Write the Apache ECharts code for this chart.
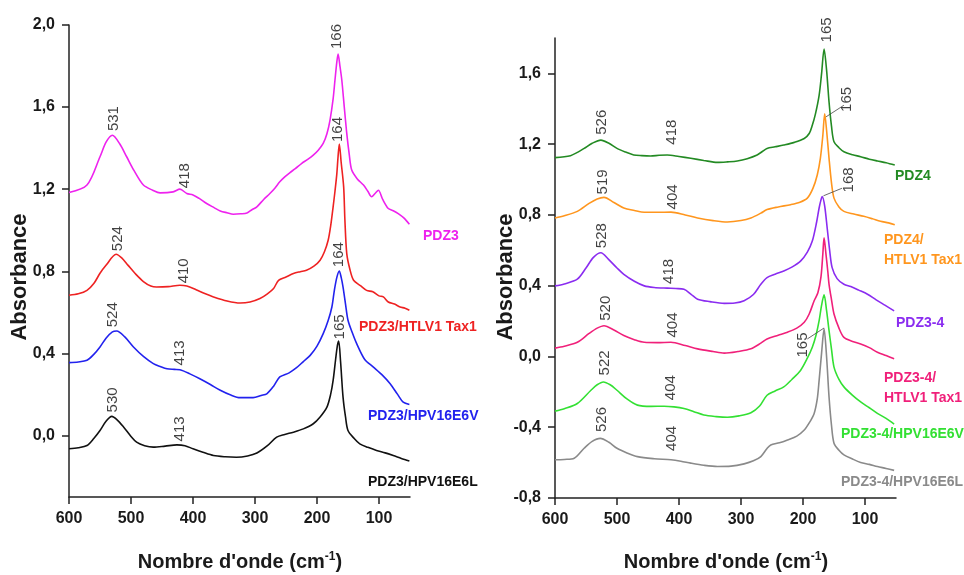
<!DOCTYPE html>
<html>
<head>
<meta charset="utf-8">
<script src="https://cdn.jsdelivr.net/npm/echarts@6/dist/echarts.min.js"></script>
<style>html,body{margin:0;padding:0;background:#fff;}#c{width:964px;height:575px;}</style>
</head>
<body>
<div id="c"></div>
<script>
// ---------- Left panel data (wavenumber cm-1, absorbance) ----------
const pdz3 = [[600,1.184],[571,1.22],[550,1.358],[540,1.43],[530,1.463],[518,1.42],[507,1.358],[495,1.29],[480,1.22],[465,1.195],[453,1.182],[432,1.187],[421,1.2],[410,1.179],[400,1.172],[390,1.155],[378,1.13],[366,1.11],[356,1.094],[345,1.085],[335,1.078],[323,1.08],[313,1.084],[305,1.1],[297,1.114],[286,1.15],[276,1.179],[268,1.205],[260,1.236],[252,1.26],[244,1.28],[235,1.3],[225,1.325],[215,1.345],[206,1.366],[198,1.39],[190,1.423],[184,1.47],[179,1.537],[174,1.64],[171,1.732],[168,1.82],[166,1.859],[163,1.8],[160,1.732],[156,1.6],[152,1.472],[148,1.37],[144,1.293],[135,1.25],[125,1.22],[118,1.19],[112,1.163],[106,1.18],[101,1.195],[94,1.15],[85,1.106],[77,1.095],[69,1.081],[60,1.06],[51,1.029]];
const pdz3Tax = [[600,0.683],[585,0.69],[571,0.707],[560,0.74],[550,0.79],[540,0.83],[524,0.883],[515,0.865],[505,0.83],[492,0.785],[480,0.75],[468,0.728],[459,0.723],[440,0.725],[421,0.732],[410,0.728],[395,0.71],[380,0.69],[367,0.675],[345,0.655],[324,0.645],[308,0.65],[292,0.667],[280,0.69],[270,0.716],[262,0.756],[250,0.772],[238,0.789],[227,0.798],[217,0.805],[205,0.825],[195,0.854],[188,0.895],[182,0.951],[178,1.02],[174,1.114],[171,1.19],[168,1.276],[166,1.36],[164,1.42],[161,1.33],[157,1.211],[155,1.05],[152,0.886],[147,0.81],[141,0.756],[130,0.73],[120,0.707],[110,0.7],[100,0.68],[93,0.675],[85,0.65],[75,0.64],[66,0.626],[58,0.62],[51,0.61]];
const pdz3E6V = [[600,0.355],[585,0.358],[571,0.366],[560,0.395],[550,0.431],[540,0.475],[530,0.505],[523,0.509],[510,0.48],[496,0.431],[480,0.385],[464,0.35],[452,0.335],[442,0.325],[430,0.322],[421,0.32],[405,0.3],[389,0.276],[372,0.248],[356,0.22],[340,0.198],[324,0.184],[303,0.184],[290,0.195],[281,0.203],[270,0.24],[260,0.285],[245,0.305],[233,0.33],[222,0.36],[211,0.39],[200,0.435],[190,0.496],[182,0.56],[176,0.626],[172,0.707],[168,0.77],[164,0.801],[161,0.77],[158,0.723],[154,0.64],[150,0.561],[143,0.5],[136,0.447],[123,0.37],[109,0.333],[95,0.295],[82,0.252],[70,0.2],[61,0.162],[51,0.151]];
const pdz3E6L = [[600,-0.065],[585,-0.06],[571,-0.049],[560,-0.015],[550,0.024],[540,0.07],[531,0.093],[522,0.075],[512,0.041],[500,-0.005],[491,-0.033],[478,-0.05],[464,-0.057],[445,-0.052],[426,-0.046],[413,-0.05],[400,-0.065],[384,-0.082],[367,-0.098],[348,-0.104],[330,-0.106],[312,-0.1],[297,-0.086],[280,-0.05],[265,-0.008],[252,0.005],[238,0.016],[222,0.032],[206,0.057],[195,0.09],[184,0.138],[178,0.2],[174,0.268],[170,0.37],[167,0.44],[165,0.46],[162,0.36],[158,0.187],[154,0.09],[150,0.024],[140,-0.015],[131,-0.041],[118,-0.058],[104,-0.073],[90,-0.085],[77,-0.098],[64,-0.112],[51,-0.125]];

// ---------- Right panel data ----------
const pdz4 = [[600,1.124],[575,1.135],[563,1.155],[553,1.176],[540,1.205],[526,1.223],[513,1.205],[500,1.176],[486,1.155],[473,1.139],[460,1.135],[446,1.133],[432,1.137],[419,1.139],[400,1.13],[381,1.12],[360,1.108],[338,1.097],[322,1.1],[306,1.105],[290,1.118],[274,1.139],[265,1.16],[258,1.176],[245,1.185],[231,1.195],[214,1.21],[198,1.232],[190,1.26],[185,1.307],[180,1.37],[174,1.476],[170,1.6],[166,1.738],[162,1.62],[158,1.438],[154,1.3],[150,1.213],[142,1.18],[134,1.157],[120,1.14],[107,1.129],[93,1.115],[80,1.105],[66,1.095],[52,1.082]];
const pdz4Tax = [[600,0.783],[585,0.795],[564,0.82],[545,0.865],[532,0.89],[521,0.899],[505,0.87],[489,0.839],[472,0.825],[456,0.815],[435,0.815],[413,0.816],[390,0.8],[370,0.783],[345,0.768],[322,0.76],[300,0.768],[284,0.783],[268,0.81],[258,0.83],[240,0.845],[220,0.858],[205,0.872],[193,0.895],[184,0.95],[177,1.026],[172,1.12],[168,1.25],[165,1.372],[162,1.28],[158,1.12],[154,0.98],[150,0.895],[142,0.845],[134,0.82],[118,0.805],[102,0.792],[88,0.778],[75,0.764],[62,0.755],[52,0.745]];
const pdz34 = [[600,0.399],[585,0.41],[564,0.437],[550,0.5],[538,0.56],[526,0.586],[514,0.55],[500,0.5],[489,0.464],[472,0.425],[456,0.399],[440,0.39],[419,0.386],[405,0.384],[392,0.38],[380,0.35],[370,0.324],[350,0.31],[327,0.3],[310,0.302],[295,0.315],[280,0.35],[268,0.408],[258,0.446],[245,0.465],[231,0.483],[218,0.505],[204,0.539],[193,0.59],[185,0.652],[178,0.76],[174,0.839],[171,0.885],[169,0.904],[165,0.85],[161,0.726],[157,0.6],[153,0.502],[145,0.44],[134,0.408],[123,0.395],[110,0.375],[96,0.352],[82,0.32],[68,0.29],[53,0.258]];
const pdz34Tax = [[600,0.047],[585,0.058],[564,0.08],[545,0.13],[532,0.16],[521,0.174],[505,0.15],[489,0.118],[472,0.095],[456,0.08],[435,0.078],[413,0.08],[390,0.062],[370,0.043],[345,0.028],[327,0.019],[305,0.028],[284,0.043],[268,0.075],[258,0.099],[240,0.12],[225,0.137],[210,0.16],[198,0.193],[190,0.24],[182,0.315],[176,0.36],[171,0.45],[168,0.58],[166,0.67],[163,0.58],[160,0.48],[158,0.408],[154,0.32],[150,0.24],[142,0.16],[134,0.108],[120,0.085],[107,0.071],[93,0.05],[80,0.024],[66,0.005],[53,-0.013]];
const pdz34E6V = [[600,-0.309],[585,-0.295],[564,-0.266],[542,-0.191],[532,-0.16],[522,-0.144],[511,-0.16],[500,-0.191],[484,-0.24],[467,-0.275],[445,-0.282],[424,-0.281],[408,-0.285],[392,-0.294],[376,-0.312],[360,-0.331],[340,-0.34],[322,-0.344],[303,-0.336],[284,-0.318],[270,-0.28],[258,-0.219],[245,-0.195],[231,-0.172],[218,-0.13],[204,-0.079],[193,-0.01],[185,0.052],[179,0.12],[174,0.202],[170,0.29],[166,0.348],[162,0.26],[158,0.146],[154,0.04],[150,-0.06],[142,-0.13],[134,-0.172],[120,-0.22],[107,-0.257],[93,-0.29],[80,-0.322],[66,-0.35],[53,-0.382]];
const pdz34E6L = [[600,-0.584],[585,-0.582],[569,-0.575],[553,-0.519],[540,-0.48],[527,-0.463],[513,-0.485],[500,-0.519],[484,-0.545],[467,-0.566],[440,-0.578],[413,-0.584],[397,-0.592],[381,-0.603],[360,-0.615],[338,-0.622],[316,-0.62],[295,-0.607],[280,-0.59],[268,-0.566],[258,-0.52],[252,-0.5],[238,-0.488],[225,-0.472],[210,-0.45],[198,-0.416],[189,-0.37],[182,-0.322],[177,-0.24],[174,-0.135],[170,0.02],[166,0.156],[162,0.0],[158,-0.229],[154,-0.39],[150,-0.49],[142,-0.53],[134,-0.556],[120,-0.58],[107,-0.599],[93,-0.61],[80,-0.622],[66,-0.633],[53,-0.644]];

// ---------- Peak annotations: [x, y(bottom of text), text] ----------
const leftPeakLabels = [[168,1.883,'166'],[527,1.483,'531'],[413,1.205,'418'],[166,1.43,'164'],[522,0.898,'524'],[414,0.741,'410'],[164.5,0.82,'164'],[528.5,0.527,'524'],[421,0.341,'413'],[163,0.468,'165'],[530,0.112,'530'],[421,-0.029,'413']];
const rightPeakLabels = [[161,1.775,'165'],[524,1.253,'526'],[411,1.197,'418'],[128.5,1.382,'165'],[522.6,0.916,'519'],[409.7,0.831,'404'],[126,0.927,'168'],[524,0.612,'528'],[417,0.41,'418'],[518,0.202,'520'],[410,0.107,'404'],[201,-0.006,'165'],[519,-0.107,'522'],[413,-0.247,'404'],[524,-0.427,'526'],[411,-0.534,'404']];
const leaderLines = [[[163,1.354],[134,1.42]],[[167,0.908],[137,0.951]],[[193,0.099],[166,0.161]]];

// ---------- Ticks ----------
const xTicks = [100,200,300,400,500,600];
const leftYTicks = [0,0.4,0.8,1.2,1.6,2.0];
const rightYTicks = [-0.8,-0.4,0,0.4,0.8,1.2,1.6];

const leftNames = [
  {text:'PDZ3', color:'#ee22ee', x:423, y:236},
  {text:'PDZ3/HTLV1 Tax1', color:'#ee2222', x:359, y:327},
  {text:'PDZ3/HPV16E6V', color:'#2222ee', x:368, y:416},
  {text:'PDZ3/HPV16E6L', color:'#111111', x:368, y:482}
];
const rightNames = [
  {text:'PDZ4', color:'#238a23', x:895, y:176},
  {text:'PDZ4/', color:'#ff961e', x:884, y:240},
  {text:'HTLV1 Tax1', color:'#ff961e', x:884, y:260},
  {text:'PDZ3-4', color:'#8a2cf0', x:896, y:323},
  {text:'PDZ3-4/', color:'#f0207a', x:884, y:378},
  {text:'HTLV1 Tax1', color:'#f0207a', x:884, y:398},
  {text:'PDZ3-4/HPV16E6V', color:'#33e033', x:841, y:434},
  {text:'PDZ3-4/HPV16E6L', color:'#8a8a8a', x:841, y:482}
];

const FONT = '"Liberation Sans", Arial, sans-serif';
const chart = echarts.init(document.getElementById('c'));
const fmt = v => (Math.round(v*10)/10).toFixed(1).replace('.', ',');

function xAxis(gi){
  return {
    type:'value', gridIndex:gi, min:50, max:600, inverse:true, position:'bottom',
    axisLine:{show:true, onZero:false, lineStyle:{color:'#222', width:1.5}},
    axisTick:{show:true, length:7, inside:false, customValues:xTicks, lineStyle:{color:'#222', width:1.5}},
    axisLabel:{customValues:xTicks, color:'#1a1a1a', fontSize:16, fontWeight:'bold', fontFamily:FONT, margin:14},
    splitLine:{show:false}
  };
}
function yAxis(gi, min, max, ticks){
  return {
    type:'value', gridIndex:gi, min:min, max:max, position:'left',
    axisLine:{show:true, onZero:false, lineStyle:{color:'#222', width:1.5}},
    axisTick:{show:true, length:7, customValues:ticks, lineStyle:{color:'#222', width:1.5}},
    axisLabel:{customValues:ticks, formatter:fmt, color:'#1a1a1a', fontSize:16, fontWeight:'bold', fontFamily:FONT, margin:14},
    splitLine:{show:false}
  };
}
function lineSeries(data, color, gi){
  return {type:'line', xAxisIndex:gi, yAxisIndex:gi, data:data, showSymbol:false, smooth:0.3,
    lineStyle:{color:color, width:1.6}, itemStyle:{color:color}, silent:true, z:3};
}
function labelSeries(data, gi){
  return {type:'scatter', xAxisIndex:gi, yAxisIndex:gi, data:data, symbolSize:1, itemStyle:{color:'rgba(0,0,0,0)'}, silent:true, z:5,
    label:{show:true, position:'inside', rotate:90, align:'left', verticalAlign:'middle', formatter:p=>p.value[2],
      color:'#111', fontSize:15, fontFamily:FONT}};
}

const series = [
  lineSeries(pdz3,'#ee22ee',0), lineSeries(pdz3Tax,'#ee2222',0), lineSeries(pdz3E6V,'#2222ee',0), lineSeries(pdz3E6L,'#111111',0),
  lineSeries(pdz4,'#238a23',1), lineSeries(pdz4Tax,'#ff961e',1), lineSeries(pdz34,'#8a2cf0',1), lineSeries(pdz34Tax,'#f0207a',1),
  lineSeries(pdz34E6V,'#33e033',1), lineSeries(pdz34E6L,'#8a8a8a',1),
  labelSeries(leftPeakLabels,0), labelSeries(rightPeakLabels,1)
];
leaderLines.forEach(l => series.push({type:'line', xAxisIndex:1, yAxisIndex:1, data:l, showSymbol:false, silent:true, lineStyle:{color:'#444', width:0.8}, z:4}));

const graphics = [];
leftNames.concat(rightNames).forEach(n => graphics.push({type:'text', x:n.x, y:n.y, style:{text:n.text, fill:n.color, font:'bold 14px '+FONT, textVerticalAlign:'middle', textAlign:'left'}}));
[[240,562],[726,562]].forEach(p => graphics.push({type:'text', x:p[0], y:p[1], style:{
  text:"{a|Nombre d'onde (cm}{s|-1}{a|)}", textAlign:'center', textVerticalAlign:'middle',
  rich:{a:{font:'bold 20px '+FONT, fill:'#1a1a1a'}, s:{font:'bold 12px '+FONT, fill:'#1a1a1a', verticalAlign:'top', padding:[0,0,10,0]}}
}}));
[[20,277],[506,277]].forEach(p => graphics.push({type:'text', x:p[0], y:p[1], rotation:Math.PI/2, style:{
  text:'Absorbance', font:'bold 22px '+FONT, fill:'#1a1a1a', textAlign:'center', textVerticalAlign:'middle'}}));

chart.setOption({
  backgroundColor:'#ffffff',
  animation:false,
  grid:[{left:69, top:25, width:341, height:472}, {left:555, top:38, width:341, height:460}],
  xAxis:[xAxis(0), xAxis(1)],
  yAxis:[yAxis(0,-0.3,2.0,leftYTicks), yAxis(1,-0.8,1.8,rightYTicks)],
  series:series,
  graphic:graphics
});
</script>
</body>
</html>
